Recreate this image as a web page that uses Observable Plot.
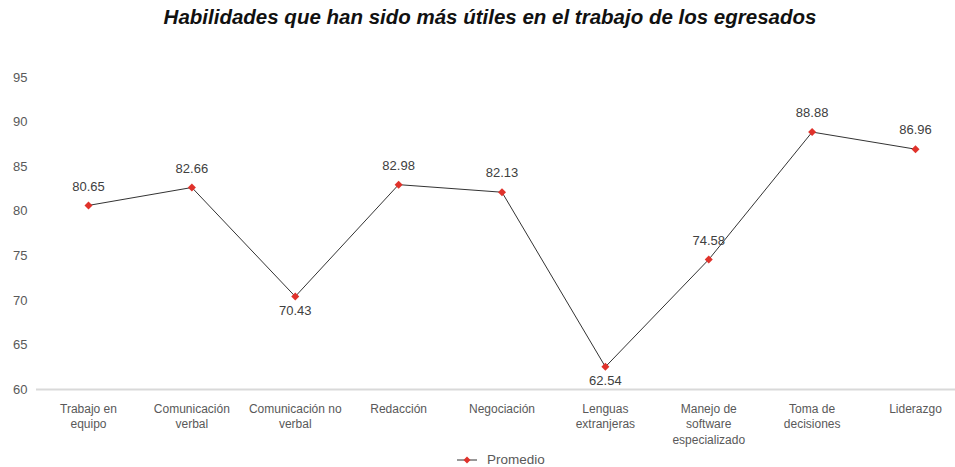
<!DOCTYPE html>
<html>
<head>
<meta charset="utf-8">
<script src="https://cdn.jsdelivr.net/npm/d3@7"></script>
<script src="https://cdn.jsdelivr.net/npm/@observablehq/plot@0.6"></script>
<style>
  html, body { margin: 0; padding: 0; background: #fff; width: 955px; height: 467px; overflow: hidden; position: relative; font-family: "Liberation Sans", Arial, sans-serif; }
  #title { position: absolute; top: 5px; left: 0; width: 980px; text-align: center; font-weight: bold; font-style: italic; font-size: 20.5px; color: #111; }
  #chart { position: absolute; top: 36px; left: 0; }
  #legend { position: absolute; top: 452px; left: 456px; font-size: 13.5px; color: #595959; display: flex; align-items: center; }
  #legend svg { margin-right: 9px; }
</style>
</head>
<body>
<div id="title">Habilidades que han sido más útiles en el trabajo de los egresados</div>
<div id="chart"></div>
<div id="legend"><svg width="22" height="10"><line x1="1" y1="5" x2="21" y2="5" stroke="#333" stroke-width="1"/><path d="M11,1.5L14.5,5L11,8.5L7.5,5Z" fill="#e0322b"/></svg><span>Promedio</span></div>
<script>
const categories = ["Trabajo en equipo", "Comunicación verbal", "Comunicación no verbal", "Redacción", "Negociación", "Lenguas extranjeras", "Manejo de software especializado", "Toma de decisiones", "Liderazgo"];
const tickLabels = ["Trabajo en\nequipo", "Comunicación\nverbal", "Comunicación no\nverbal", "Redacción", "Negociación", "Lenguas\nextranjeras", "Manejo de\nsoftware\nespecializado", "Toma de\ndecisiones", "Liderazgo"];
const values = [80.65, 82.66, 70.43, 82.98, 82.13, 62.54, 74.58, 88.88, 86.96];
const labelBelow = [false, false, true, false, false, true, false, false, false];
const yTicks = [60, 65, 70, 75, 80, 85, 90, 95];

const data = categories.map((c, i) => ({cat: c, value: values[i], label: values[i].toFixed(2), below: labelBelow[i]}));
const labelMap = new Map(categories.map((c, i) => [c, tickLabels[i]]));

const chart = Plot.plot({
  width: 955,
  height: 415,
  marginLeft: 36,
  marginRight: 0,
  marginTop: 41,
  marginBottom: 62,
  style: {fontFamily: "'Liberation Sans', Arial, sans-serif", background: "transparent"},
  x: {type: "band", domain: categories, range: [36.3, 966.7], padding: 0, round: false},
  y: {domain: [60, 95]},
  marks: [
    Plot.axisY({ticks: yTicks, tickSize: 0, tickPadding: 9, fontSize: 13, color: "#595959", label: null}),
    Plot.axisX({tickSize: 0, tickPadding: 12, fontSize: 12, lineHeight: 1.3, color: "#595959", label: null, tickFormat: d => labelMap.get(d)}),
    Plot.ruleY([60], {stroke: "#d9d9d9", strokeWidth: 2}),
    Plot.line(data, {x: "cat", y: "value", stroke: "#333", strokeWidth: 1}),
    Plot.dot(data, {x: "cat", y: "value", symbol: "diamond2", r: 3.6, fill: "#e0322b", stroke: "none"}),
    Plot.text(data.filter(d => !d.below), {x: "cat", y: "value", text: "label", dy: -19, fontSize: 13, fill: "#404040"}),
    Plot.text(data.filter(d => d.below), {x: "cat", y: "value", text: "label", dy: 14, fontSize: 13, fill: "#404040"})
  ]
});
document.getElementById("chart").appendChild(chart);
</script>
</body>
</html>
